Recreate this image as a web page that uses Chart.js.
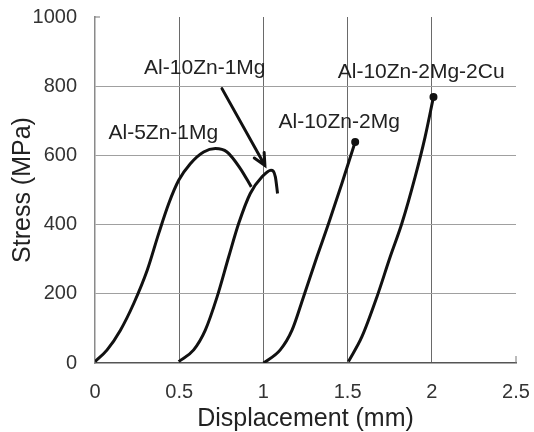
<!DOCTYPE html>
<html lang="en">
<head>
    <meta charset="UTF-8">
    <title>Stress - Displacement</title>
    <script src="https://cdn.jsdelivr.net/npm/chart.js"></script>
    <style>
        body { margin: 0; background: #fff; }
        canvas { display: block; }
    </style>
</head>
<body>
    <canvas id="chartCanvas" width="534" height="432"></canvas>

    <script>
        // curves: displacement (mm) / stress (MPa)
        var alloyNames = ['Al-5Zn-1Mg', 'Al-10Zn-1Mg', 'Al-10Zn-2Mg', 'Al-10Zn-2Mg-2Cu'];

        var x5Zn1Mg = [0, 0.072, 0.151, 0.23, 0.31, 0.378, 0.438, 0.497, 0.566, 0.645, 0.715, 0.784, 0.863, 0.928];
        var y5Zn1Mg = [4, 38, 95, 172, 268, 374, 461, 528, 576, 610, 620, 610, 562, 509];

        var x10Zn1Mg = [0.497, 0.586, 0.655, 0.725, 0.794, 0.853, 0.922, 0.992, 1.045, 1.071, 1.084];
        var y10Zn1Mg = [4, 38, 95, 191, 307, 403, 490, 538, 557, 538, 490];

        var x10Zn2Mg = [1.001, 1.1, 1.17, 1.238, 1.318, 1.387, 1.466, 1.545];
        var y10Zn2Mg = [0, 38, 95, 191, 307, 403, 519, 639];

        var x10Zn2Mg2Cu = [1.505, 1.585, 1.674, 1.753, 1.822, 1.901, 1.96, 2.01];
        var y10Zn2Mg2Cu = [4, 76, 191, 307, 403, 538, 653, 769];

        // label anchors (data coords) and the arrow
        var labelX = [0.406, 0.652, 1.45, 1.937];
        var labelY = [664, 851, 696, 840];
        var arrowFrom = [0.754, 793];
        var arrowTo = [1.009, 571];

        var xTicks = [0, 0.5, 1, 1.5, 2, 2.5];
        var yTicks = [0, 200, 400, 600, 800, 1000];

        function pts(xs, ys) {
            return xs.map(function (x, i) { return { x: x, y: ys[i] }; });
        }

        function curve(label, xs, ys, endDot) {
            var radius = xs.map(function (v, i) { return endDot && i === xs.length - 1 ? 2.5 : 0; });
            return {
                label: label,
                data: pts(xs, ys),
                showLine: true,
                borderColor: '#111',
                backgroundColor: '#111',
                borderWidth: 3,
                pointRadius: radius,
                cubicInterpolationMode: 'monotone'
            };
        }

        var fontFam = '"Liberation Sans", Arial, Helvetica, sans-serif';

        var notes = {
            id: 'notes',
            afterDatasetsDraw: function (chart) {
                var c = chart.ctx, xs = chart.scales.x, ys = chart.scales.y;
                c.save();
                // small inside tick marks at the open ends of the axes
                c.strokeStyle = '#777';
                c.lineWidth = 1;
                c.beginPath();
                c.moveTo(xs.left, ys.getPixelForValue(1000));
                c.lineTo(xs.left + 5, ys.getPixelForValue(1000));
                c.moveTo(xs.getPixelForValue(2.5), ys.bottom);
                c.lineTo(xs.getPixelForValue(2.5), ys.bottom - 7);
                c.stroke();

                c.fillStyle = '#222';
                c.font = '21px ' + fontFam;
                c.textAlign = 'center';
                c.textBaseline = 'middle';
                alloyNames.forEach(function (n, i) {
                    c.fillText(n, xs.getPixelForValue(labelX[i]), ys.getPixelForValue(labelY[i]));
                });

                var x1 = xs.getPixelForValue(arrowFrom[0]), y1 = ys.getPixelForValue(arrowFrom[1]);
                var x2 = xs.getPixelForValue(arrowTo[0]), y2 = ys.getPixelForValue(arrowTo[1]);
                var a = Math.atan2(y2 - y1, x2 - x1);
                c.strokeStyle = '#111';
                c.lineWidth = 3;
                c.lineCap = 'round';
                c.beginPath();
                c.moveTo(x1, y1);
                c.lineTo(x2, y2);
                c.moveTo(x2 - 13 * Math.cos(a - 0.45), y2 - 13 * Math.sin(a - 0.45));
                c.lineTo(x2, y2);
                c.lineTo(x2 - 13 * Math.cos(a + 0.45), y2 - 13 * Math.sin(a + 0.45));
                c.stroke();
                c.restore();
            }
        };

        var ctx = document.getElementById('chartCanvas').getContext('2d');
        var myChart = new Chart(ctx, {
            type: 'scatter',
            data: {
                datasets: [
                    curve(alloyNames[0], x5Zn1Mg, y5Zn1Mg, false),
                    curve(alloyNames[1], x10Zn1Mg, y10Zn1Mg, false),
                    curve(alloyNames[2], x10Zn2Mg, y10Zn2Mg, true),
                    curve(alloyNames[3], x10Zn2Mg2Cu, y10Zn2Mg2Cu, true)
                ]
            },
            options: {
                responsive: false,
                animation: false,
                layout: { padding: { top: 17, right: 18, left: 0, bottom: 0 } },
                plugins: { legend: { display: false }, tooltip: { enabled: false } },
                scales: {
                    x: {
                        type: 'linear',
                        min: 0,
                        max: 2.5,
                        afterBuildTicks: function (s) { s.ticks = xTicks.map(function (v) { return { value: v }; }); },
                        afterFit: function (s) { s.height = 69; s.paddingLeft = 0; s.paddingRight = 0; },
                        grid: {
                            drawTicks: false,
                            color: function (c) { return (c.tick && (c.tick.value === 0 || c.tick.value === 2.5)) ? 'rgba(0,0,0,0)' : '#6a6a6a'; }
                        },
                        border: { display: true, color: '#555', width: 1.5 },
                        ticks: {
                            color: '#333', padding: 17, font: { family: fontFam, size: 20 },
                            callback: function (v) { return String(v); }
                        },
                        title: {
                            display: true,
                            text: 'Displacement (mm)',
                            color: '#222',
                            padding: 0,
                            font: { family: fontFam, size: 25, lineHeight: 1 }
                        }
                    },
                    y: {
                        min: 0,
                        max: 1000,
                        afterBuildTicks: function (s) { s.ticks = yTicks.map(function (v) { return { value: v }; }); },
                        afterFit: function (s) { s.width = 95; s.paddingTop = 0; s.paddingBottom = 0; },
                        grid: {
                            drawTicks: false,
                            color: function (c) { return (c.tick && (c.tick.value === 0 || c.tick.value === 1000)) ? 'rgba(0,0,0,0)' : '#a0a0a0'; }
                        },
                        border: { display: true, color: '#8a8a8a', width: 1.5 },
                        ticks: {
                            color: '#333', padding: 18, font: { family: fontFam, size: 20 },
                            callback: function (v) { return String(v); }
                        },
                        title: {
                            display: true,
                            text: 'Stress (MPa)',
                            color: '#222',
                            padding: { top: 11, bottom: 0 },
                            font: { family: fontFam, size: 25, lineHeight: 1 }
                        }
                    }
                }
            },
            plugins: [notes]
        });
    </script>
</body>
</html>
